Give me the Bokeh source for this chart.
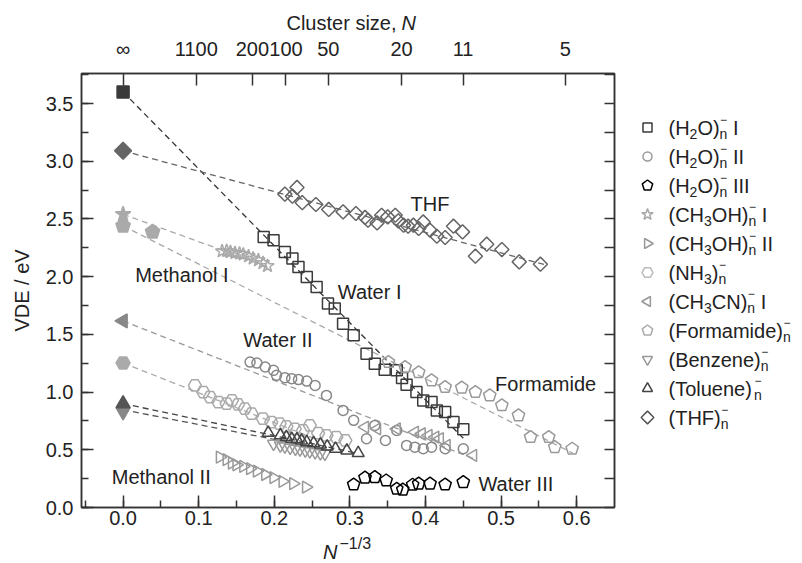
import math
from bokeh.plotting import figure
from bokeh.models import (Range1d, LinearAxis, FixedTicker, SingleIntervalTicker,
                          PrintfTickFormatter, CustomJSTickFormatter)
from bokeh.layouts import row, column
from bokeh.embed import file_html
from bokeh.resources import INLINE
from bokeh.core.properties import value

# ---------------- data ----------------
water1_x = [0.186, 0.199, 0.214, 0.224, 0.232, 0.243, 0.256, 0.271, 0.280, 0.291, 0.305, 0.322,
            0.333, 0.346, 0.362, 0.369, 0.375, 0.388, 0.397, 0.408, 0.415, 0.426, 0.437, 0.450]
water1_y = [2.344, 2.316, 2.214, 2.157, 2.084, 1.997, 1.911, 1.767, 1.723, 1.593, 1.492, 1.333,
            1.246, 1.194, 1.188, 1.121, 1.064, 1.000, 0.928, 0.913, 0.841, 0.827, 0.740, 0.677]

water2_x = [0.168, 0.177, 0.188, 0.199, 0.203, 0.214, 0.223, 0.232, 0.243, 0.254, 0.269, 0.291,
            0.305, 0.322, 0.333, 0.347, 0.362, 0.375, 0.386, 0.397, 0.408, 0.426, 0.450]
water2_y = [1.260, 1.251, 1.217, 1.188, 1.145, 1.125, 1.116, 1.108, 1.095, 1.058, 0.971, 0.841,
            0.755, 0.596, 0.711, 0.581, 0.668, 0.538, 0.523, 0.509, 0.523, 0.509, 0.509]

water3_x = [0.305, 0.320, 0.333, 0.348, 0.362, 0.370, 0.383, 0.391, 0.406, 0.426, 0.450]
water3_y = [0.199, 0.258, 0.263, 0.234, 0.162, 0.154, 0.197, 0.206, 0.206, 0.199, 0.219]

meth1_x = [0.131, 0.137, 0.142, 0.148, 0.154, 0.159, 0.166, 0.172, 0.179, 0.185, 0.191]
meth1_y = [2.220, 2.223, 2.214, 2.206, 2.201, 2.192, 2.177, 2.157, 2.142, 2.119, 2.093]

meth2_x = [0.128, 0.137, 0.144, 0.150, 0.159, 0.168, 0.177, 0.188, 0.199, 0.211, 0.225, 0.242]
meth2_y = [0.436, 0.414, 0.384, 0.370, 0.356, 0.336, 0.315, 0.286, 0.258, 0.226, 0.206, 0.176]

nh3_x = [0.095, 0.106, 0.115, 0.126, 0.137, 0.144, 0.152, 0.161, 0.170, 0.185, 0.196, 0.207,
         0.216, 0.227, 0.238, 0.247, 0.258, 0.269, 0.282, 0.294]
nh3_y = [1.058, 1.000, 0.957, 0.913, 0.899, 0.928, 0.893, 0.856, 0.813, 0.769, 0.740, 0.726,
         0.702, 0.682, 0.668, 0.711, 0.644, 0.624, 0.610, 0.581]

ch3cn_x = [0.320, 0.336, 0.362, 0.386, 0.395, 0.404, 0.413, 0.419, 0.428, 0.463]
ch3cn_y = [0.696, 0.682, 0.682, 0.653, 0.639, 0.624, 0.610, 0.596, 0.538, 0.451]

form_x = [0.351, 0.373, 0.391, 0.408, 0.426, 0.448, 0.466, 0.485, 0.501, 0.523, 0.539, 0.563,
          0.571, 0.594]
form_y = [1.260, 1.217, 1.171, 1.101, 1.043, 1.038, 1.000, 0.971, 0.885, 0.798, 0.610, 0.610,
          0.523, 0.509]

benz_x = [0.199, 0.208, 0.214, 0.221, 0.228, 0.234, 0.241, 0.247, 0.254, 0.261, 0.267]
benz_y = [0.552, 0.538, 0.529, 0.518, 0.509, 0.503, 0.494, 0.488, 0.480, 0.471, 0.466]

tol_x = [0.192, 0.208, 0.216, 0.223, 0.230, 0.236, 0.243, 0.252, 0.261, 0.270, 0.281, 0.296, 0.311]
tol_y = [0.648, 0.625, 0.610, 0.596, 0.590, 0.581, 0.566, 0.558, 0.546, 0.529, 0.509, 0.494, 0.471]

thf_x = [0.214, 0.230, 0.224, 0.237, 0.255, 0.272, 0.291, 0.308, 0.320, 0.324, 0.336, 0.342,
         0.350, 0.360, 0.364, 0.371, 0.377, 0.384, 0.391, 0.397, 0.406, 0.415, 0.426, 0.437,
         0.449, 0.466, 0.481, 0.501, 0.524, 0.552]
thf_y = [2.715, 2.773, 2.697, 2.641, 2.625, 2.582, 2.561, 2.547, 2.513, 2.489, 2.466, 2.532,
         2.518, 2.532, 2.483, 2.446, 2.437, 2.446, 2.417, 2.474, 2.402, 2.350, 2.339, 2.437,
         2.388, 2.177, 2.281, 2.235, 2.128, 2.108]

# extrapolated bulk values (filled symbols)
water1_ext_x, water1_ext_y = [0.0], [3.60]
thf_ext_x, thf_ext_y = [0.0], [3.09]
meth1_ext_x, meth1_ext_y = [0.0], [2.54]
form_ext_x, form_ext_y = [0.0, 0.039], [2.44, 2.388]
ch3cn_ext_x, ch3cn_ext_y = [0.0], [1.616]
nh3_ext_x, nh3_ext_y = [0.0], [1.252]
tol_ext_x, tol_ext_y = [0.0], [0.90]
benz_ext_x, benz_ext_y = [0.0], [0.83]

# dashed extrapolation lines
water1_fit_x, water1_fit_y = [0.0, 0.45], [3.60, 0.60]
thf_fit_x, thf_fit_y = [0.0, 0.56], [3.09, 2.10]
meth1_fit_x, meth1_fit_y = [0.0, 0.19], [2.54, 2.09]
form_fit_x, form_fit_y = [0.0, 0.595], [2.44, 0.47]
ch3cn_fit_x, ch3cn_fit_y = [0.0, 0.465], [1.616, 0.42]
nh3_fit_x, nh3_fit_y = [0.0, 0.26], [1.252, 0.58]
tol_fit_x, tol_fit_y = [0.0, 0.31], [0.90, 0.47]
benz_fit_x, benz_fit_y = [0.0, 0.27], [0.847, 0.50]

# top axis: cluster sizes
cluster_sizes = [None, 1100, 200, 100, 50, 20, 11, 5]
cluster_labels = ["∞", "1100", "200", "100", "50", "20", "11", "5"]

# in-plot labels
series_label_text = ["THF", "Water I", "Methanol I", "Water II", "Formamide", "Methanol II", "Water III"]
series_label_x = [0.406, 0.284, 0.016, 0.159, 0.492, -0.015, 0.470]
series_label_y = [2.63, 1.867, 2.012, 1.448, 1.073, 0.263, 0.20]
series_label_align = ["center", "left", "left", "left", "left", "left", "left"]

legend_entries = ["(H_2O)@ I", "(H_2O)@ II", "(H_2O)@ III", "(CH_3OH)@ I", "(CH_3OH)@ II",
                  "(NH_3)@", "(CH_3CN)@ I", "(Formamide)@", "(Benzene)@", "(Toluene)@", "(THF)@"]

# ---------------- geometry / style ----------------
FONT = "Liberation Sans"
TXT = "#222222"
W_TOTAL, H_TOTAL = 802, 563
TS, BS = 34, 31                      # top / bottom title strips
W_MAIN = 624
H = H_TOTAL - TS - BS
FRAME_TOP, FRAME_BOT = 73, 507       # canvas pixels of the plot frame
FL, FR = 81, 10
FT = FRAME_TOP - TS
FB = (H_TOTAL - BS) - FRAME_BOT
X0, X1 = -0.055, 0.65
Y0, Y1 = 0.0, 3.76
PX_X = (W_MAIN - FL - FR) / (X1 - X0)          # px per x unit
PX_Y = (FRAME_BOT - FRAME_TOP) / (Y1 - Y0)     # px per y unit

p = figure(width=W_MAIN, height=H, x_range=Range1d(X0, X1), y_range=Range1d(Y0, Y1),
           output_backend="svg", toolbar_location=None,
           min_border_left=FL, min_border_right=FR, min_border_top=FT, min_border_bottom=FB)
p.grid.visible = False
p.outline_line_color = "#333333"
p.outline_line_width = 1.5
p.background_fill_color = "white"
p.border_fill_color = "white"


def style_axis(ax, standoff=8, tick_in=12, minor_in=7):
    ax.axis_line_color = "#333333"
    ax.axis_line_width = 1.5
    ax.major_tick_line_color = "#333333"
    ax.major_tick_line_width = 1.5
    ax.minor_tick_line_color = "#333333"
    ax.minor_tick_line_width = 1.5
    ax.major_tick_in = tick_in
    ax.major_tick_out = 0
    ax.minor_tick_in = minor_in
    ax.minor_tick_out = 0
    ax.major_label_text_font = FONT
    ax.major_label_text_font_size = "20px"
    ax.major_label_text_color = TXT
    ax.major_label_standoff = standoff


xa = p.xaxis[0]
xa.ticker = SingleIntervalTicker(interval=0.1, num_minor_ticks=2)
xa.formatter = PrintfTickFormatter(format="%.1f")
style_axis(xa, standoff=3)

ya = p.yaxis[0]
ya.ticker = SingleIntervalTicker(interval=0.5, num_minor_ticks=2)
ya.formatter = PrintfTickFormatter(format="%.1f")
style_axis(ya, standoff=8)
ya.axis_label = "VDE / eV"
ya.axis_label_text_font = FONT
ya.axis_label_text_font_size = "20px"
ya.axis_label_text_font_style = "normal"
ya.axis_label_text_color = TXT
ya.axis_label_standoff = 10

top_pos = [0.0 if n is None else n ** (-1.0 / 3.0) for n in cluster_sizes]
ta = LinearAxis(ticker=FixedTicker(ticks=top_pos, minor_ticks=[]),
                formatter=CustomJSTickFormatter(args=dict(labels=cluster_labels, pos=top_pos),
                                                code="""
let best = 0, bd = 1e9;
for (let i = 0; i < pos.length; i++) { const d = Math.abs(pos[i] - tick); if (d < bd) { bd = d; best = i; } }
return labels[best];
"""))
style_axis(ta, standoff=14)
p.add_layout(ta, "above")

ra = LinearAxis(ticker=SingleIntervalTicker(interval=0.25, num_minor_ticks=0),
                formatter=CustomJSTickFormatter(code="return '';"))
style_axis(ra, standoff=0, tick_in=10)
p.add_layout(ra, "right")

DASH = "6 4"


def fit(xs, ys, color):
    p.line(xs, ys, line_color=color, line_width=1.3, line_dash=DASH)


fit(water1_fit_x, water1_fit_y, "#333333")
fit(thf_fit_x, thf_fit_y, "#666666")
fit(meth1_fit_x, meth1_fit_y, "#aaaaaa")
fit(form_fit_x, form_fit_y, "#aaaaaa")
fit(ch3cn_fit_x, ch3cn_fit_y, "#999999")
fit(nh3_fit_x, nh3_fit_y, "#aaaaaa")
fit(tol_fit_x, tol_fit_y, "#444444")
fit(benz_fit_x, benz_fit_y, "#555555")


def pent(fig, xs, ys, color, sx, sy, filled=False, r=6.5):
    """Upward-pointing pentagon of pixel radius r around each data point."""
    pxs, pys = [], []
    for x, y in zip(xs, ys):
        ang = [2 * math.pi * k / 5 for k in range(5)]
        pxs.append([x + r * math.sin(a) / sx for a in ang])
        pys.append([y + r * math.cos(a) / sy for a in ang])
    fig.patches(pxs, pys, fill_color=color if filled else None, line_color=color, line_width=1.5)


def sc(fig, xs, ys, marker, size, color, filled=False, angle=0.0):
    fig.scatter(xs, ys, marker=marker, size=size, angle=angle,
                fill_color=color if filled else None, line_color=color, line_width=1.5)


# open symbols
sc(p, water1_x, water1_y, "square", 11, "#3a3a3a")
sc(p, thf_x, thf_y, "square", 10, "#666666", angle=math.pi / 4)
sc(p, water2_x, water2_y, "circle", 10, "#888888")
pent(p, water3_x, water3_y, "#000000", PX_X, PX_Y)
sc(p, meth1_x, meth1_y, "star", 14, "#aaaaaa")
sc(p, meth2_x, meth2_y, "triangle", 12, "#999999", angle=-math.pi / 2)
sc(p, nh3_x, nh3_y, "hex", 13, "#aaaaaa")
sc(p, ch3cn_x, ch3cn_y, "triangle", 12, "#999999", angle=math.pi / 2)
pent(p, form_x, form_y, "#999999", PX_X, PX_Y)
sc(p, benz_x, benz_y, "inverted_triangle", 12, "#999999")
sc(p, tol_x, tol_y, "triangle", 12, "#444444")

# filled extrapolated symbols
sc(p, water1_ext_x, water1_ext_y, "square", 12, "#3a3a3a", filled=True)
sc(p, thf_ext_x, thf_ext_y, "square", 12, "#666666", filled=True, angle=math.pi / 4)
sc(p, meth1_ext_x, meth1_ext_y, "star", 16, "#aaaaaa", filled=True)
pent(p, form_ext_x, form_ext_y, "#aaaaaa", PX_X, PX_Y, filled=True, r=7.5)
sc(p, ch3cn_ext_x, ch3cn_ext_y, "triangle", 14, "#888888", filled=True, angle=math.pi / 2)
sc(p, nh3_ext_x, nh3_ext_y, "hex", 14, "#aaaaaa", filled=True)
sc(p, benz_ext_x, benz_ext_y, "inverted_triangle", 14, "#888888", filled=True)
sc(p, tol_ext_x, tol_ext_y, "triangle", 14, "#555555", filled=True)

for t_, x, y, a in zip(series_label_text, series_label_x, series_label_y, series_label_align):
    p.text(x=[x], y=[y], text=[t_], text_align=a, text_baseline="middle",
           text_font=value(FONT), text_font_size="20px", text_color=TXT)


def strip(width, height, x0, x1, ytop, ybot):
    f = figure(width=width, height=height, x_range=Range1d(x0, x1), y_range=Range1d(ybot, ytop),
               output_backend="svg", toolbar_location=None, min_border=0,
               x_axis_type=None, y_axis_type=None)
    f.grid.visible = False
    f.outline_line_color = None
    f.background_fill_color = "white"
    f.border_fill_color = "white"
    return f


def put(fig, x, y, s, fs, align="left", style="normal"):
    fig.text(x=[x], y=[y], text=[s], text_align=align, text_baseline="middle",
             text_font=value(FONT), text_font_size=f"{fs}px", text_font_style=style,
             text_color=TXT)


# ---------------- top title strip ----------------
t = strip(W_TOTAL, TS, 0, W_TOTAL, 0, TS)
put(t, 396, 22, "Cluster size,", 20, align="right")
put(t, 401, 22, "N", 20, style="italic")

# ---------------- bottom title strip ----------------
b = strip(W_TOTAL, BS, 0, W_TOTAL, H_TOTAL - BS, H_TOTAL)
put(b, 337, 551, "N", 20, align="right", style="italic")
put(b, 339, 543, "−1/3", 16)

# ---------------- legend panel (its frame is aligned with the plot frame) ----------------
W_LEG = W_TOTAL - W_MAIN
q = strip(W_LEG, H, W_MAIN, W_TOTAL, FRAME_TOP, FRAME_BOT)

AW = {'(': 333, ')': 333, 'H': 722, 'O': 778, 'C': 722, 'N': 722, 'F': 611, 'T': 611, 'I': 278,
      'B': 667, ' ': 278, 'o': 556, 'r': 333, 'm': 833, 'a': 556, 'i': 222, 'd': 556, 'e': 556,
      'n': 556, 'z': 500, 'l': 222, 'u': 556, '2': 556, '3': 556}


def tw(s, fs):
    return sum(AW.get(c, 556) for c in s) * fs / 1000.0


FS, FSS = 20, 14
LEG_TX, LEG_MX, LEG_Y0, LEG_DY = 668, 647, 127, 29

for i, m in enumerate(legend_entries):
    y = LEG_Y0 + i * LEG_DY
    x = LEG_TX
    buf = ""
    j = 0
    while j < len(m):
        c = m[j]
        if c in "_@ ":
            if buf:
                put(q, x, y, buf, FS)
                x += tw(buf, FS)
                buf = ""
            if c == "_":
                put(q, x, y + 6, m[j + 1], FSS)
                x += tw(m[j + 1], FSS)
                j += 1
            elif c == "@":
                put(q, x + 0.5, y - 8, "−", FSS - 2)
                put(q, x, y + 6, "n", FSS)
                x += tw("n", FSS)
            else:
                x += tw(" ", FS)
        else:
            buf += c
        j += 1
    if buf:
        put(q, x, y, buf, FS)

leg_y = [LEG_Y0 + i * LEG_DY for i in range(len(legend_entries))]
sc(q, [LEG_MX], [leg_y[0]], "square", 9, "#3a3a3a")
sc(q, [LEG_MX], [leg_y[1]], "circle", 9, "#999999")
pent(q, [LEG_MX], [leg_y[2]], "#000000", 1.0, -1.0, r=5.5)
sc(q, [LEG_MX], [leg_y[3]], "star", 12, "#aaaaaa")
sc(q, [LEG_MX], [leg_y[4]], "triangle", 10, "#999999", angle=-math.pi / 2)
sc(q, [LEG_MX], [leg_y[5]], "hex", 11, "#bbbbbb")
sc(q, [LEG_MX], [leg_y[6]], "triangle", 10, "#999999", angle=math.pi / 2)
pent(q, [LEG_MX], [leg_y[7]], "#aaaaaa", 1.0, -1.0, r=5.5)
sc(q, [LEG_MX], [leg_y[8]], "inverted_triangle", 10, "#999999")
sc(q, [LEG_MX], [leg_y[9]], "triangle", 10, "#444444")
sc(q, [LEG_MX], [leg_y[10]], "square", 9, "#555555", angle=math.pi / 4)

layout = column(t, row(p, q), b)
open("out.html", "w").write(file_html(layout, INLINE))
